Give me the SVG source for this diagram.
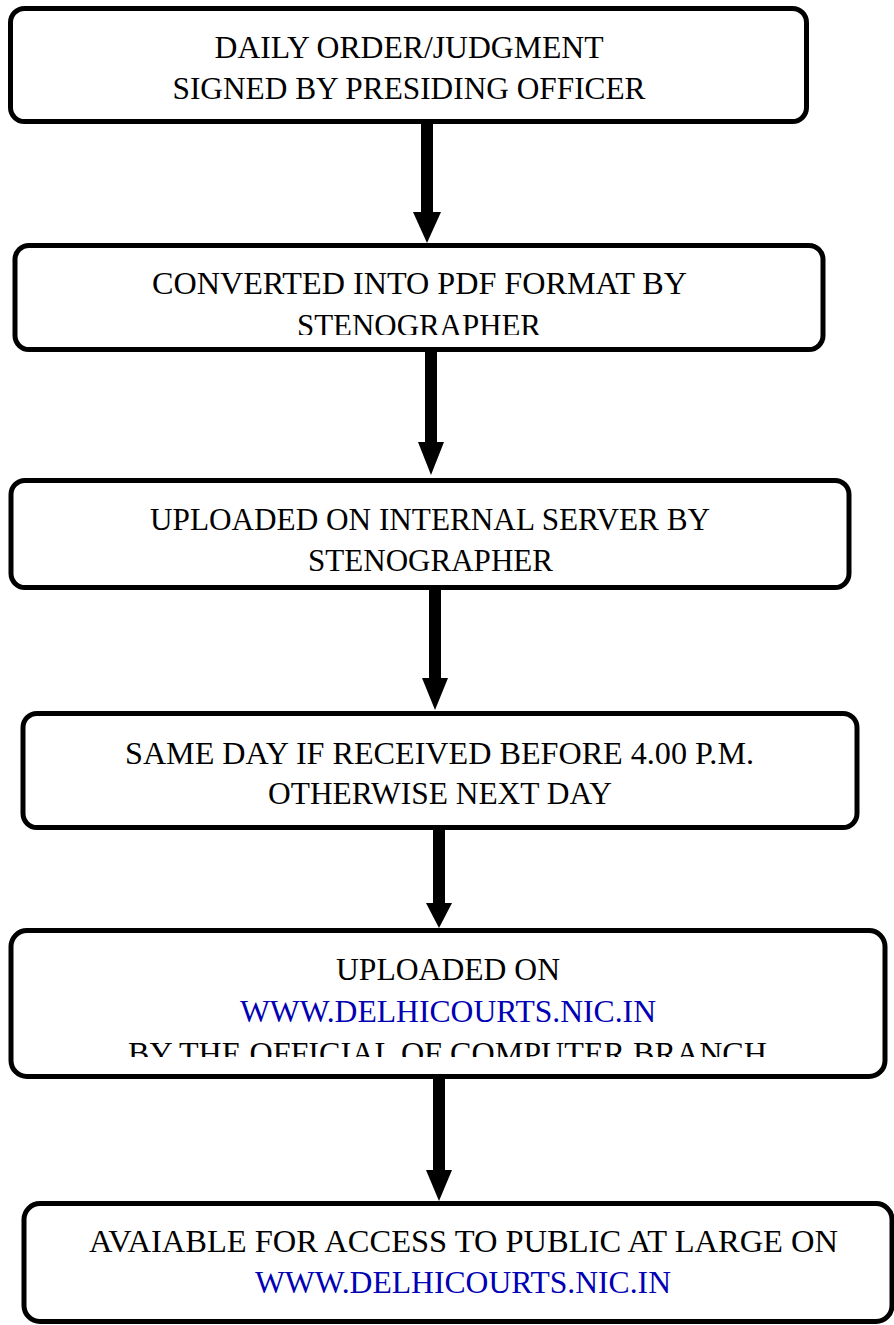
<svg xmlns="http://www.w3.org/2000/svg" width="894" height="1325" viewBox="0 0 894 1325">
  <defs>
    <style>
      .box { fill: #ffffff; stroke: #000000; stroke-width: 5; }
      .t { font-family: "Liberation Serif", "Times New Roman", serif; font-size: 32px; fill: #000000; text-anchor: middle; }
      .link { fill: #0000b4; }
      .shaft { stroke: #000000; stroke-width: 12; fill: none; }
      .head { fill: #000000; }
    </style>
    <clipPath id="clip2"><rect x="10" y="240" width="820" height="95"/></clipPath>
    <clipPath id="clip5"><rect x="5" y="925" width="890" height="132"/></clipPath>
  </defs>

  <!-- connectors -->
  <g id="connectors">
    <line class="shaft" x1="427" y1="122" x2="427" y2="214"/>
    <polygon class="head" points="413,212 441,212 427,243"/>
    <line class="shaft" x1="431" y1="350" x2="431" y2="444"/>
    <polygon class="head" points="418,442 444,442 431,475"/>
    <line class="shaft" x1="435" y1="588" x2="435" y2="680"/>
    <polygon class="head" points="422,678 448,678 435,710"/>
    <line class="shaft" x1="439" y1="828" x2="439" y2="905"/>
    <polygon class="head" points="426,903 452,903 439,928"/>
    <line class="shaft" x1="439" y1="1077" x2="439" y2="1172"/>
    <polygon class="head" points="426,1170 452,1170 439,1201"/>
  </g>

  <g id="node1">
    <rect class="box" x="10.5" y="8.5" width="796" height="113" rx="14"/>
    <text class="t" x="409" y="58" textLength="389" lengthAdjust="spacingAndGlyphs">DAILY ORDER/JUDGMENT</text>
    <text class="t" x="409" y="99" textLength="473" lengthAdjust="spacingAndGlyphs">SIGNED BY PRESIDING OFFICER</text>
  </g>

  <g id="node2">
    <rect class="box" x="15" y="245.5" width="808" height="104" rx="14"/>
    <g clip-path="url(#clip2)">
      <text class="t" x="419.5" y="294" textLength="535" lengthAdjust="spacingAndGlyphs">CONVERTED INTO PDF FORMAT BY</text>
      <text class="t" x="419" y="336" textLength="244" lengthAdjust="spacingAndGlyphs">STENOGRAPHER</text>
    </g>
  </g>

  <g id="node3">
    <rect class="box" x="11" y="480.5" width="838" height="107" rx="14"/>
    <text class="t" x="430" y="530" textLength="560" lengthAdjust="spacingAndGlyphs">UPLOADED ON INTERNAL SERVER BY</text>
    <text class="t" x="430.5" y="571" textLength="245" lengthAdjust="spacingAndGlyphs">STENOGRAPHER</text>
  </g>

  <g id="node4">
    <rect class="box" x="23" y="713.5" width="834" height="114" rx="14"/>
    <text class="t" x="439.5" y="764" textLength="629" lengthAdjust="spacingAndGlyphs">SAME DAY IF RECEIVED BEFORE 4.00 P.M.</text>
    <text class="t" x="440" y="804" textLength="344" lengthAdjust="spacingAndGlyphs">OTHERWISE NEXT DAY</text>
  </g>

  <g id="node5">
    <rect class="box" x="11" y="930.5" width="874" height="146" rx="16"/>
    <g clip-path="url(#clip5)">
      <text class="t" x="448" y="980" textLength="224" lengthAdjust="spacingAndGlyphs">UPLOADED ON</text>
      <text class="t link" x="448" y="1022" textLength="416" lengthAdjust="spacingAndGlyphs">WWW.DELHICOURTS.NIC.IN</text>
      <text class="t" x="447.5" y="1064" textLength="639" lengthAdjust="spacingAndGlyphs">BY THE OFFICIAL OF COMPUTER BRANCH</text>
    </g>
  </g>

  <g id="node6">
    <rect class="box" x="24" y="1203.5" width="868" height="118" rx="16"/>
    <text class="t" x="463.5" y="1252" textLength="749" lengthAdjust="spacingAndGlyphs">AVAIABLE FOR ACCESS TO PUBLIC AT LARGE ON</text>
    <text class="t link" x="463" y="1293" textLength="416" lengthAdjust="spacingAndGlyphs">WWW.DELHICOURTS.NIC.IN</text>
  </g>
</svg>
